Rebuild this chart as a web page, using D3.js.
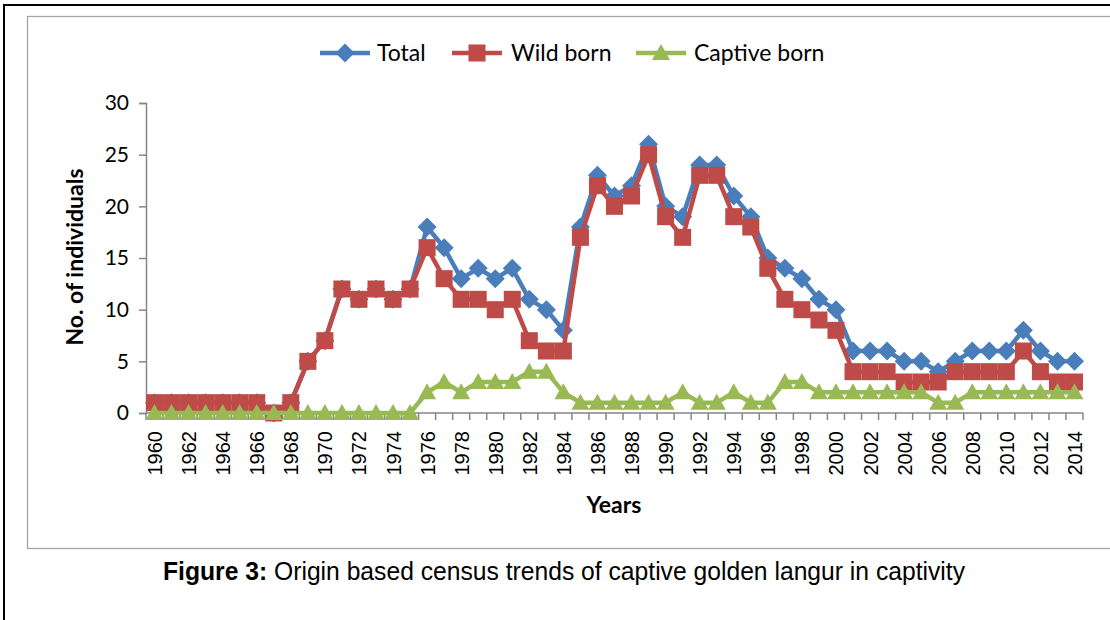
<!DOCTYPE html>
<html><head><meta charset="utf-8">
<script src="https://cdn.jsdelivr.net/npm/d3@7"></script>
<style>
html,body{margin:0;padding:0;background:#fff;}
svg{display:block;}
</style></head>
<body>
<svg id="c" width="1110" height="620"></svg>
<script>
const years = d3.range(1960, 2015).map(String);
const tickLabels = years.filter((y, i) => i % 2 === 0);
const total = [1,1,1,1,1,1,1,0,1,5,7,12,11,12,11,12,18,16,13,14,13,14,11,10,8,18,23,21,22,26,20,19,24,24,21,19,15,14,13,11,10,6,6,6,5,5,4,5,6,6,6,8,6,5,5];
const wildBorn = [1,1,1,1,1,1,1,0,1,5,7,12,11,12,11,12,16,13,11,11,10,11,7,6,6,17,22,20,21,25,19,17,23,23,19,18,14,11,10,9,8,4,4,4,3,3,3,4,4,4,4,6,4,3,3];
const captiveBorn = [0,0,0,0,0,0,0,0,0,0,0,0,0,0,0,0,2,3,2,3,3,3,4,4,2,1,1,1,1,1,1,2,1,1,2,1,1,3,3,2,2,2,2,2,2,2,1,1,2,2,2,2,2,2,2];
const yTicks = [0,5,10,15,20,25,30];
const seriesNames = ["Total","Wild born","Captive born"];
const colors = ["#4A7EBB","#BE4B48","#98B954"];

const svg = d3.select("#c");
// outer frame
svg.append("rect").attr("x",4).attr("y",5).attr("width",1120).attr("height",640)
  .attr("fill","none").attr("stroke","#000").attr("stroke-width",2);
// chart area frame
svg.append("rect").attr("x",27.5).attr("y",16.5).attr("width",1100).attr("height",532)
  .attr("fill","none").attr("stroke","#a6a6a6").attr("stroke-width",1.3);

const x = d3.scaleBand().domain(years).range([146, 1083]).padding(0);
const y = d3.scaleLinear().domain([0,30]).range([413,103]);
const cx = d => x(d) + x.bandwidth()/2;

// axes
const axisColor = "#868686";
const yAxis = svg.append("g").attr("transform","translate(146,0)")
  .call(d3.axisLeft(y).tickValues(yTicks).tickSize(7).tickPadding(10));
yAxis.select(".domain").attr("stroke",axisColor).attr("stroke-width",1.5);
yAxis.selectAll(".tick line").attr("stroke",axisColor).attr("stroke-width",1.5);
yAxis.selectAll(".tick text").attr("font-family","Lato, 'Open Sans', sans-serif").attr("font-size",21).attr("fill","#000");

const xAxis = svg.append("g").attr("transform","translate(0,413)");
xAxis.append("line").attr("x1",146).attr("x2",1083).attr("stroke",axisColor).attr("stroke-width",1.5);
xAxis.selectAll("line.tk").data(years.concat(["end"])).enter().append("line").attr("class","tk")
  .attr("x1",d => d==="end" ? 1083 : x(d)).attr("x2",d => d==="end" ? 1083 : x(d))
  .attr("y1",0).attr("y2",7).attr("stroke",axisColor).attr("stroke-width",1.5);
xAxis.selectAll("text.lbl").data(tickLabels).enter().append("text").attr("class","lbl")
  .attr("transform", d => `translate(${cx(d)+7.5},18) rotate(-90)`)
  .attr("text-anchor","end")
  .attr("font-family","'Liberation Sans', Arial, sans-serif").attr("font-size",20).attr("fill","#000")
  .text(d => d);

// axis titles
svg.append("text").attr("x",614).attr("y",513).attr("text-anchor","middle")
  .attr("font-family","Lato, sans-serif").attr("font-weight","bold").attr("font-size",23).text("Years");
svg.append("text").attr("transform","translate(83,257) rotate(-90)").attr("text-anchor","middle")
  .attr("font-family","Lato, sans-serif").attr("font-weight","bold").attr("font-size",23).text("No. of individuals");

// series
const data = [total, wildBorn, captiveBorn];
const line = d3.line().x((d,i) => cx(years[i])).y(d => y(d));
function marker(g, type, color, px, py) {
  if (type === 0) {
    g.append("path").attr("d", `M${px},${py-9.5}L${px+9.5},${py}L${px},${py+9.5}L${px-9.5},${py}Z`).attr("fill",color);
  } else if (type === 1) {
    g.append("rect").attr("x",px-8.5).attr("y",py-8.5).attr("width",17).attr("height",17).attr("fill",color);
  } else {
    g.append("path").attr("d", `M${px},${py-9}L${px+9},${py+7}L${px-9},${py+7}Z`).attr("fill",color);
  }
}
data.forEach((vals, si) => {
  const g = svg.append("g");
  g.append("path").datum(vals).attr("d", line).attr("fill","none")
    .attr("stroke", colors[si]).attr("stroke-width", 4.5).attr("stroke-linejoin","round");
  vals.forEach((v, i) => marker(g, si, colors[si], cx(years[i]), y(v)));
});

// legend
const legendX = [320, 452, 636];
const legendTextX = [377, 511, 694];
seriesNames.forEach((n, i) => {
  const g = svg.append("g");
  g.append("line").attr("x1",legendX[i]).attr("x2",legendX[i]+50).attr("y1",53).attr("y2",53)
    .attr("stroke",colors[i]).attr("stroke-width",4.5);
  marker(g, i, colors[i], legendX[i]+25, 53);
  g.append("text").attr("x",legendTextX[i]).attr("y",61).attr("font-family","Lato, sans-serif")
    .attr("font-size",23).attr("fill","#000").text(n);
});

// caption
const cap = svg.append("text").attr("x",163).attr("y",580)
  .attr("font-family","'Liberation Sans Narrow', 'Arial Narrow', 'Liberation Sans', sans-serif").attr("font-size",25).attr("fill","#000")
  .attr("textLength",802).attr("lengthAdjust","spacingAndGlyphs");
cap.append("tspan").attr("font-weight","bold").text("Figure 3:");
cap.append("tspan").text(" Origin based census trends of captive golden langur in captivity");
</script>
</body></html>
